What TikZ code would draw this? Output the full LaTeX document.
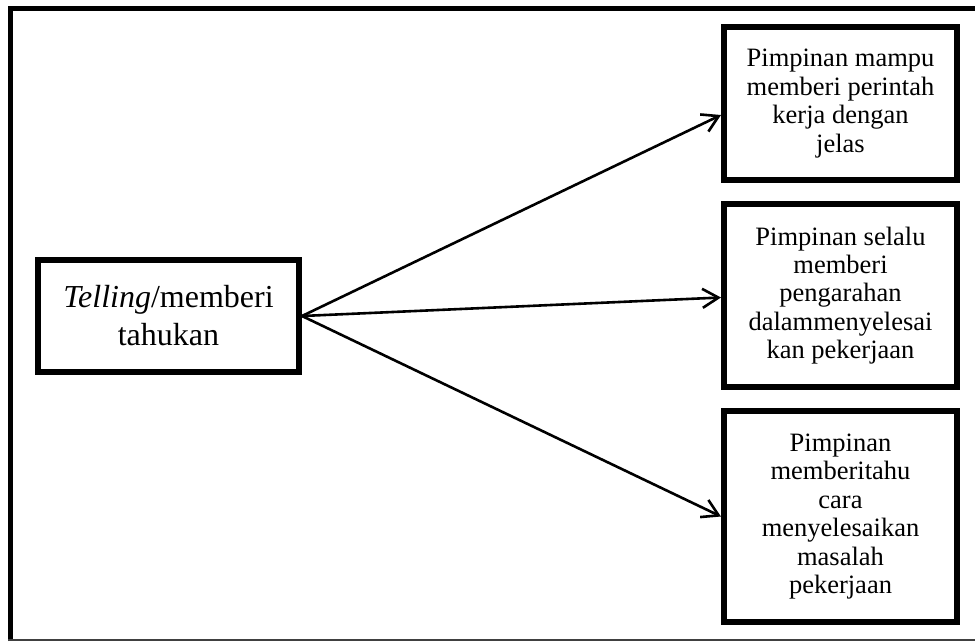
\documentclass[tikz,border=0pt]{standalone}
\usepackage{fontspec}
\setmainfont{Liberation Serif}
\usetikzlibrary{arrows.meta}
\begin{document}
\begin{tikzpicture}[x=1pt,y=-1pt,
  box/.style={draw, line width=6pt, inner sep=0pt, align=center},
  smalltext/.style={font=\fontsize{26.5}{28.4}\selectfont},
  bigtext/.style={font=\fontsize{32}{38}\selectfont},
  link/.style={line width=2.6pt, -{Straight Barb[length=16pt,width=19pt,line width=2.6pt]}}]
\useasboundingbox (0,0) rectangle (975,641);

% outer frame
\draw[line width=5pt] (10.5,641) -- (10.5,8.5) -- (975,8.5);
\draw[line width=1.5pt, black!75] (8,640) -- (975,640);

% source box
\node[box, bigtext, minimum width=261pt, minimum height=112pt] (src) at (168.5,316)
  {\textit{Telling}/memberi\\tahukan};

% target boxes
\node[box, smalltext, minimum width=233pt, minimum height=153pt] (b1) at (840.5,103.5)
  {Pimpinan mampu\\memberi perintah\\kerja dengan\\jelas};
\node[box, smalltext, minimum width=233pt, minimum height=183pt] (b2) at (840.5,295.5)
  {Pimpinan selalu\\memberi\\pengarahan\\dalammenyelesai\\kan pekerjaan};
\node[box, smalltext, minimum width=233pt, minimum height=211pt] (b3) at (840.5,516.5)
  {Pimpinan\\memberitahu\\cara\\menyelesaikan\\masalah\\pekerjaan};

% connectors
\draw[link] (src.east) -- ([yshift=-11.5pt]b1.west);
\draw[link] (src.east) -- ([yshift=-2pt]b2.west);
\draw[link] (src.east) -- (b3.west);
\end{tikzpicture}
\end{document}
